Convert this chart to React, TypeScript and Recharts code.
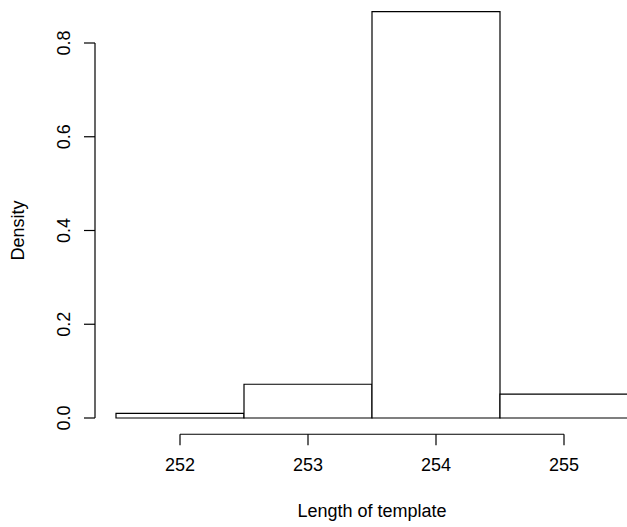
import React from 'react';
import { ComposedChart, Bar, XAxis, YAxis, Label } from 'recharts';

// Histogram bins (centres) and densities
const lengths = [252, 253, 254, 255];
const densities = [0.01, 0.072, 0.867, 0.051];
const xTicks = [252, 253, 254, 255];
const yTicks = [0, 0.2, 0.4, 0.6, 0.8];
const xTitle = 'Length of template';
const yTitle = 'Density';

const data = lengths.map((len, i) => ({ len, density: densities[i] }));

const X_DOMAIN: [number, number] = [252, 255];
// like R's usr extension below 0, so the axis sits below the bars' baseline
const BAR_Y_DOMAIN: [number, number] = [-0.0347, 0.88];
const AXIS_Y_DOMAIN: [number, number] = [0, 0.8];

const FONT = '"Liberation Sans", Arial, Helvetica, sans-serif';
const W = 627;
const H = 527;
const SW = 1.2;

const XTick = (props: any) => {
  const { x, y, payload } = props;
  return (
    <text x={x} y={y + 26} textAnchor="middle" fontFamily={FONT} fontSize={18} fill="#000">
      {payload.value}
    </text>
  );
};

const YTick = (props: any) => {
  const { x, y, payload } = props;
  const bx = x - 14.5;
  return (
    <text
      x={bx}
      y={y}
      transform={`rotate(-90, ${bx}, ${y})`}
      textAnchor="middle"
      fontFamily={FONT}
      fontSize={18}
      fill="#000"
    >
      {Number(payload.value).toFixed(1)}
    </text>
  );
};

const XTitle = (props: any) => {
  const vb = props.viewBox || { x: 0, y: 0, width: 0, height: 0 };
  return (
    <text x={vb.x + vb.width / 2} y={vb.y + 83.2} textAnchor="middle" fontFamily={FONT} fontSize={18} fill="#000">
      {xTitle}
    </text>
  );
};

const YTitle = (props: any) => {
  const vb = props.viewBox || { x: 0, y: 0, width: 0, height: 0 };
  const cx = vb.x + 24;
  const cy = vb.y + vb.height / 2;
  return (
    <text
      x={cx}
      y={cy}
      transform={`rotate(-90, ${cx}, ${cy})`}
      textAnchor="middle"
      fontFamily={FONT}
      fontSize={18}
      fill="#000"
    >
      {yTitle}
    </text>
  );
};

export default function App() {
  return (
    <div style={{ position: 'absolute', left: 0, top: 0, width: W, height: H, background: '#fff' }}>
      <div style={{ position: 'absolute', left: 0, top: 0 }}>
        <ComposedChart
          width={W}
          height={H}
          data={data}
          margin={{ top: 5.5, right: 63, bottom: 0, left: 180 }}
          barCategoryGap={0}
          barGap={0}
        >
          <XAxis
            type="number"
            dataKey="len"
            domain={X_DOMAIN}
            ticks={xTicks}
            tickCount={4}
            interval={0}
            height={92.73}
            tickSize={11}
            tickMargin={0}
            stroke="#000"
            strokeWidth={SW}
            tick={<XTick />}
          >
            <Label content={<XTitle />} />
          </XAxis>
          <YAxis hide domain={BAR_Y_DOMAIN} type="number" allowDataOverflow={false} />
          <Bar
            dataKey="density"
            fill="#fff"
            stroke="#000"
            strokeWidth={SW}
            isAnimationActive={false}
          />
        </ComposedChart>
      </div>
      <div style={{ position: 'absolute', left: 0, top: 0 }}>
        <ComposedChart
          width={W}
          height={H}
          data={data}
          margin={{ top: 43, right: 0, bottom: 109, left: 0 }}
        >
          <XAxis hide type="number" dataKey="len" domain={X_DOMAIN} />
          <YAxis
            type="number"
            domain={AXIS_Y_DOMAIN}
            allowDataOverflow
            ticks={yTicks}
            interval={0}
            width={95}
            tickSize={11}
            tickMargin={0}
            stroke="#000"
            strokeWidth={SW}
            tick={<YTick />}
          >
            <Label content={<YTitle />} />
          </YAxis>
        </ComposedChart>
      </div>
    </div>
  );
}
